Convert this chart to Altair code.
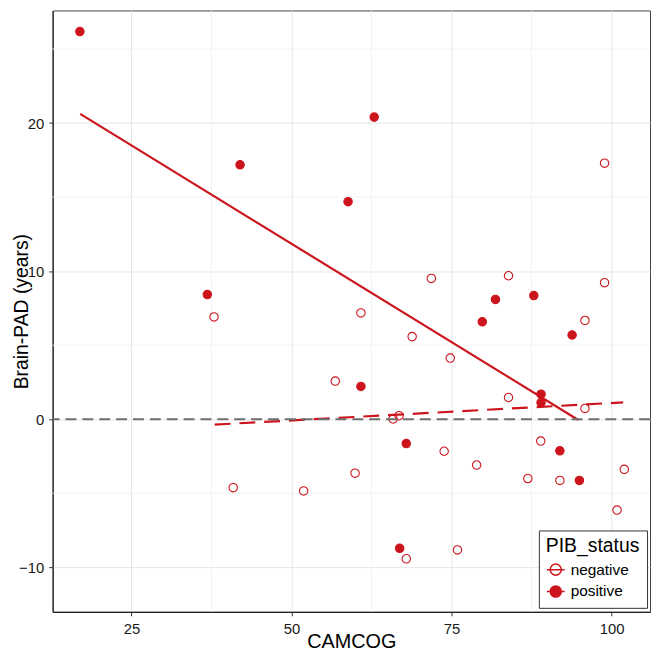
import altair as alt
import pandas as pd

RED = "#cc141c"

# Points
camcog_neg = [37.9, 98.9, 71.85, 83.9, 98.9, 60.85, 95.84, 68.85, 74.8, 56.84, 83.9, 95.84, 65.87,
              66.8, 73.85, 88.93, 78.92, 101.98, 59.93, 86.92, 91.92, 100.85, 67.93, 75.93, 40.9, 51.9]
pad_neg = [6.91, 17.29, 9.51, 9.69, 9.22, 7.18, 6.67, 5.58, 4.13, 2.58, 1.47, 0.73, 0.02,
           0.24, -2.16, -1.47, -3.09, -3.38, -3.64, -4.0, -4.13, -6.13, -9.42, -8.82, -4.62, -4.84]
camcog_pos = [16.95, 41.97, 36.86, 62.92, 58.84, 81.86, 87.85, 79.8, 93.83, 60.85, 88.98, 88.98,
              67.93, 91.92, 94.97, 66.9]
pad_pos = [26.18, 17.18, 8.42, 20.4, 14.69, 8.09, 8.35, 6.58, 5.69, 2.22, 1.69, 1.13,
           -1.64, -2.13, -4.13, -8.71]

# Fitted lines (endpoints)
fit_pos_x = [17.0, 94.8]
fit_pos_y = [20.62, -0.05]
fit_neg_x = [38.0, 101.8]
fit_neg_y = [-0.36, 1.14]

ref_y = [0]
x_ticks = [25, 50, 75, 100]
y_ticks = [-10, 0, 10, 20]
x_minor = [37.5, 62.5, 87.5]
y_minor = [-5, 5, 15, 25]

pts = pd.DataFrame({
    "CAMCOG": camcog_neg + camcog_pos,
    "PAD": pad_neg + pad_pos,
    "PIB_status": ["negative"] * len(camcog_neg) + ["positive"] * len(camcog_pos),
})
fit_pos = pd.DataFrame({"CAMCOG": fit_pos_x, "PAD": fit_pos_y})
fit_neg = pd.DataFrame({"CAMCOG": fit_neg_x, "PAD": fit_neg_y})

xs = alt.Scale(domain=[12.7, 106.0], nice=False, zero=False)
ys = alt.Scale(domain=[-13, 27.6], nice=False, zero=False)

xaxis = alt.Axis(title="CAMCOG", values=x_ticks, grid=True, gridColor="#e6e6e6", gridWidth=1,
                 domainColor="#222222", domainWidth=1.2, tickColor="#333333", tickSize=4,
                 labelFontSize=15, labelColor="#1a1a1a", labelPadding=6, labelFlush=False,
                 titleFontSize=20, titleFontWeight="normal", titleColor="#000000",
                 titleBaseline="alphabetic", titleY=36)
yaxis = alt.Axis(title="Brain-PAD (years)", values=y_ticks, grid=True, gridColor="#e6e6e6", gridWidth=1,
                 domainColor="#222222", domainWidth=1.2, tickColor="#333333", tickSize=4,
                 labelFontSize=15, labelColor="#1a1a1a", labelPadding=5, labelFlush=False,
                 titleFontSize=19.5, titleFontWeight="normal", titleColor="#000000",
                 titleBaseline="alphabetic", titleX=-25, titleY=303, titleAngle=270)

def X(f):
    return alt.X(f, type="quantitative", scale=xs, axis=xaxis)

def Y(f):
    return alt.Y(f, type="quantitative", scale=ys, axis=yaxis)

minor_x = alt.Chart(pd.DataFrame({"CAMCOG": x_minor})).mark_rule(color="#f3f3f3", strokeWidth=1).encode(x=X("CAMCOG"))
minor_y = alt.Chart(pd.DataFrame({"PAD": y_minor})).mark_rule(color="#f3f3f3", strokeWidth=1).encode(y=Y("PAD"))

pos_line = alt.Chart(fit_pos).mark_line(color=RED, strokeWidth=2.2).encode(x=X("CAMCOG"), y=Y("PAD"))
neg_line = alt.Chart(fit_neg).mark_line(color=RED, strokeWidth=2.2, strokeDash=[16, 9]).encode(x=X("CAMCOG"), y=Y("PAD"))

hline = alt.Chart(pd.DataFrame({"PAD": ref_y})).mark_rule(
    color="#6f6f6f", strokeWidth=1.9, strokeDash=[11, 6]).encode(y=Y("PAD"))

SYM = "M-1,0L1,0M0.62,0A0.62,0.62,0,1,1,-0.62,0A0.62,0.62,0,1,1,0.62,0Z"

points = alt.Chart(pts).mark_point(shape="circle", size=72, stroke=RED, strokeWidth=1.1, opacity=1).encode(
    x=X("CAMCOG"), y=Y("PAD"),
    fill=alt.Fill("PIB_status:N",
                  scale=alt.Scale(domain=["negative", "positive"], range=["transparent", RED]),
                  legend=alt.Legend(title="PIB_status", orient="none", legendX=490, legendY=524,
                                    symbolType=SYM, symbolSize=324, symbolStrokeColor=RED,
                                    symbolStrokeWidth=1.5, symbolOpacity=1,
                                    titleFontSize=19.5, titleFontWeight="normal", titleColor="#000000",
                                    labelFontSize=15.5, labelColor="#000000", padding=7,
                                    strokeColor="#333333", fillColor="white", titlePadding=3,
                                    rowPadding=3, labelOffset=5, cornerRadius=0)),
)

chart = alt.layer(minor_x, minor_y, points, pos_line, neg_line, hline).properties(
    width=602, height=606,
    padding={"left": 45, "top": 0, "right": 2, "bottom": 38},
    autosize=alt.AutoSizeParams(type="none"),
).configure(font="Liberation Sans").configure_view(stroke="#444444", strokeWidth=1)

chart.save("out.html", embed_options={"renderer": "svg", "actions": False})
